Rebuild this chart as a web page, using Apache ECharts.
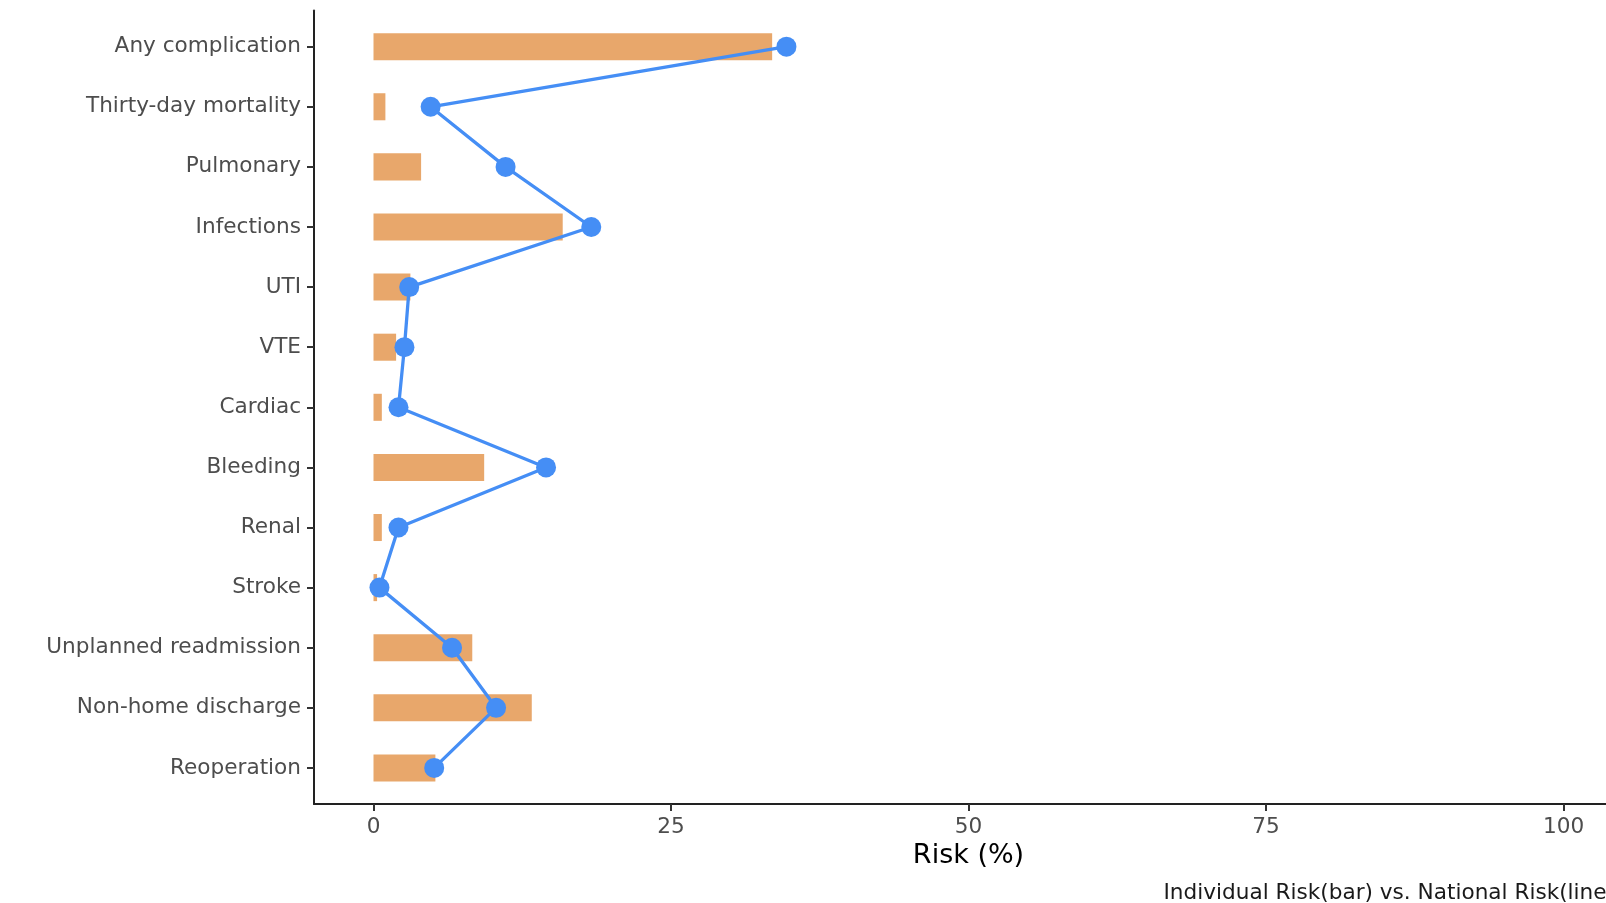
<!DOCTYPE html>
<html>
<head>
<meta charset="utf-8">
<script src="https://cdn.jsdelivr.net/npm/echarts@6/dist/echarts.min.js"></script>
<style>
html,body{margin:0;padding:0;background:#fff;}
#chart{width:1606px;height:903px;}
</style>
</head>
<body>
<div id="chart"></div>
<script>
const categories = ["Any complication","Thirty-day mortality","Pulmonary","Infections","UTI","VTE","Cardiac","Bleeding","Renal","Stroke","Unplanned readmission","Non-home discharge","Reoperation"];
const individualRisk = [33.5, 1.0, 4.0, 15.9, 3.1, 1.9, 0.7, 9.3, 0.7, 0.3, 8.3, 13.3, 5.2];
const nationalRisk = [34.7, 4.8, 11.1, 18.3, 3.0, 2.6, 2.1, 14.5, 2.1, 0.5, 6.6, 10.3, 5.1];
const xTicks = [0, 25, 50, 75, 100];
const yTicks = categories.map((c, i) => i);

const font = 'DejaVu Sans';
const chart = echarts.init(document.getElementById('chart'), null, {renderer: 'canvas'});

chart.setOption({
  backgroundColor: '#ffffff',
  animation: false,
  title: {
    text: 'Individual Risk(bar) vs. National Risk(line)',
    right: -9,
    top: 882,
    padding: 0,
    textStyle: {fontFamily: font, fontSize: 21.6, fontWeight: 'normal', color: '#1a1a1a', lineHeight: 22}
  },
  grid: {left: 314, top: 10.6, right: 0, bottom: 903 - 804, containLabel: false},
  xAxis: {
    type: 'value', min: -5, max: 103.57,
    name: 'Risk (%)', nameLocation: 'middle', nameGap: 38,
    nameTextStyle: {fontFamily: font, fontSize: 27, color: '#000', padding: [0, 0, 0, 17]},
    axisLine: {show: true, onZero: false, lineStyle: {color: '#222', width: 2}},
    axisTick: {show: true, length: 7, customValues: xTicks, lineStyle: {color: '#333', width: 2}},
    axisLabel: {customValues: xTicks, margin: 12, fontFamily: font, fontSize: 21.6, color: '#4d4d4d'},
    splitLine: {show: false}
  },
  yAxis: {
    type: 'value', min: -0.6, max: 12.6, inverse: true,
    axisLine: {show: true, onZero: false, lineStyle: {color: '#222', width: 2}},
    axisTick: {show: true, length: 7, customValues: yTicks, lineStyle: {color: '#333', width: 2}},
    axisLabel: {customValues: yTicks, margin: 13, fontFamily: font, fontSize: 21.6, color: '#4d4d4d',
      padding: [4, 0, 0, 0],
      formatter: v => categories[Math.round(v)] || ''},
    splitLine: {show: false}
  },
  series: [
    {
      type: 'custom',
      name: 'Individual Risk',
      data: individualRisk.map((v, i) => [v, i]),
      encode: {x: 0, y: 1},
      z: 1,
      renderItem: function (params, api) {
        const val = api.value(0), idx = api.value(1);
        const start = api.coord([0, idx]);
        const end = api.coord([val, idx]);
        const h = api.size([0, 0.45])[1];
        return {
          type: 'rect',
          shape: {x: start[0], y: start[1] - h / 2, width: end[0] - start[0], height: h},
          style: {fill: '#E8A76B'}
        };
      }
    },
    {
      type: 'line',
      name: 'National Risk',
      data: nationalRisk.map((v, i) => [v, i]),
      z: 5,
      symbol: 'circle',
      symbolSize: 20,
      lineStyle: {color: '#458EF5', width: 3.3},
      itemStyle: {color: '#458EF5'}
    }
  ]
});
</script>
</body>
</html>
